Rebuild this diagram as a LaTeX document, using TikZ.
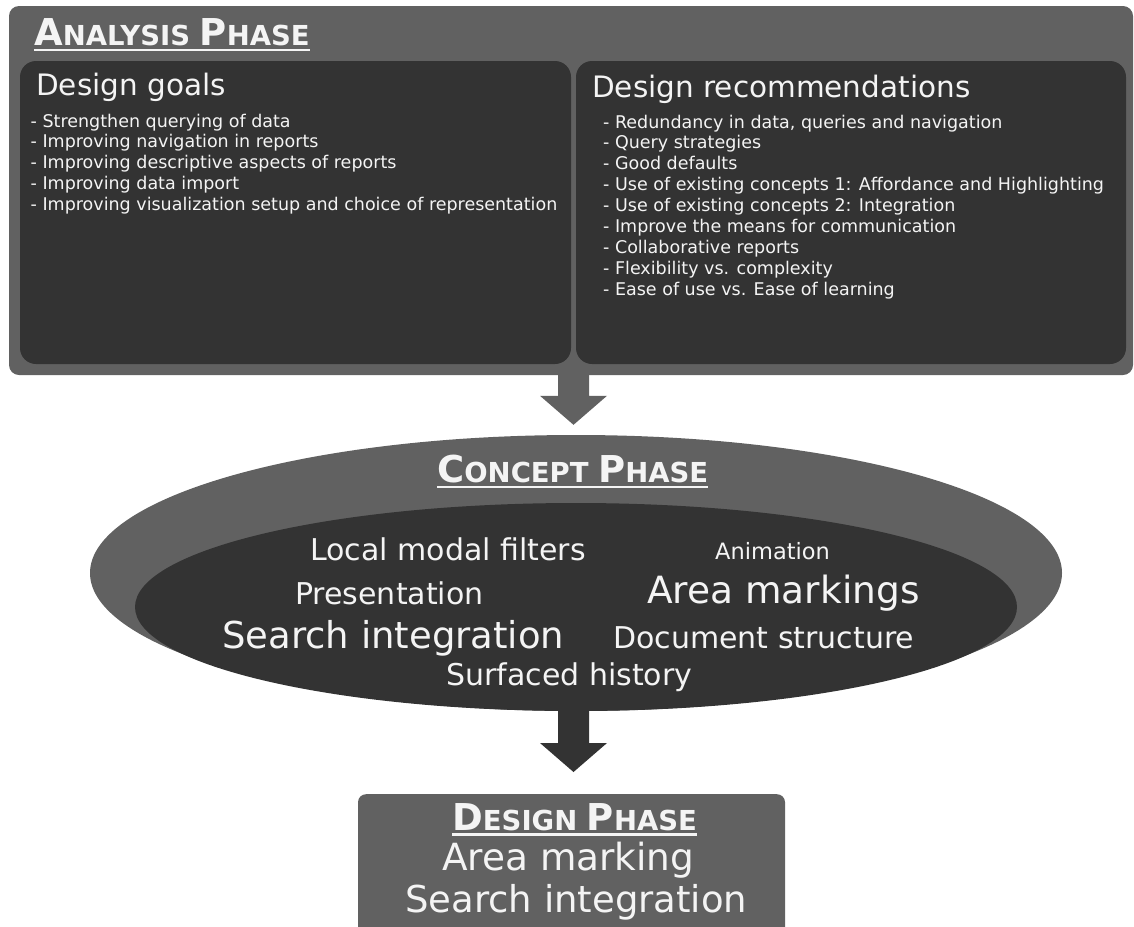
\documentclass[tikz,border=0pt]{standalone}
\usepackage{fontspec}
\setmainfont{DejaVu Sans}
\usetikzlibrary{shapes.geometric,calc}

\definecolor{panelmid}{HTML}{616161}
\definecolor{paneldark}{HTML}{333333}
\definecolor{inktext}{HTML}{F4F4F4}

% small-caps style headings built from two sizes of bold capitals
\newcommand{\capbig}[1]{{\fontsize{37}{40}\selectfont\bfseries #1}}
\newcommand{\capsmall}[1]{{\fontsize{27.5}{30}\selectfont\bfseries #1}}
\newcommand{\fs}[1]{\fontsize{#1}{#1}\selectfont}

\tikzset{
  phasebox/.style={fill=panelmid, draw=none, rounded corners=10pt, inner sep=0pt},
  listbox/.style={fill=paneldark, draw=none, rounded corners=16pt, inner sep=0pt},
  heading/.style={text=inktext, inner sep=0pt, anchor=base west},
  uline/.style={draw=inktext, line width=2.6pt},
  boxtitle/.style={text=inktext, inner sep=0pt, anchor=base west, font=\fs{29.5}},
  item/.style={text=inktext, inner sep=0pt, anchor=base west, font=\fs{17.5}},
  word/.style={text=inktext, inner sep=0pt, anchor=base west},
}

\begin{document}
\begin{tikzpicture}[x=1pt, y=-1pt]
\useasboundingbox (0,0) rectangle (1134,926);

% ---------- analysis phase ----------
\node[phasebox, minimum width=1124pt, minimum height=369pt] (analysis) at (571,190.5) {};
\node[heading] (atitle) at (34,45)
  {\capbig{A}\capsmall{NALYSIS }\capbig{P}\capsmall{HASE}};
\draw[uline] ([yshift=-5pt]atitle.base west) -- ([yshift=-5pt]atitle.base east);

\node[listbox, minimum width=551pt, minimum height=303pt] (goals) at (295.5,212.5) {};
\node[listbox, minimum width=550pt, minimum height=303pt] (recs) at (851,212.5) {};

\node[boxtitle] (goalstitle) at (36,95) {Design goals};
\node[boxtitle] (recstitle) at (592,97) {Design recommendations};

\foreach [count=\i] \t in {
  - Strengthen querying of data,
  - Improving navigation in reports,
  - Improving descriptive aspects of reports,
  - Improving data import,
  - Improving visualization setup and choice of representation}
  \node[item] (g\i) at (30.5,{127+(\i-1)*20.75}) {\t};

\foreach [count=\i] \t in {
  {- Redundancy in data, queries and navigation},
  - Query strategies,
  - Good defaults,
  - Use of existing concepts 1: Affordance and Highlighting,
  - Use of existing concepts 2: Integration,
  - Improve the means for communication,
  - Collaborative reports,
  - Flexibility vs. complexity,
  - Ease of use vs. Ease of learning}
  \node[item] (r\i) at (603,{128+(\i-1)*20.9}) {\t};

% ---------- concept phase ----------
\node[ellipse, fill=panelmid, inner sep=0pt, minimum width=972pt, minimum height=276pt] (concept) at (576,573) {};
\node[ellipse, fill=paneldark, inner sep=0pt, minimum width=882pt, minimum height=208pt] (core) at (576,607) {};
\node[heading] (ctitle) at (437,482)
  {\capbig{C}\capsmall{ONCEPT }\capbig{P}\capsmall{HASE}};
\draw[uline] ([yshift=-5pt]ctitle.base west) -- ([yshift=-5pt]ctitle.base east);

\node[word, font=\fs{30}]   (w1) at (310,560) {Local modal filters};
\node[word, font=\fs{22.5}] (w2) at (715,559) {Animation};
\node[word, font=\fs{30}]   (w3) at (295,604) {Presentation};
\node[word, font=\fs{37.5}] (w4) at (647,603) {Area markings};
\node[word, font=\fs{37}]   (w5) at (222,648) {Search integration};
\node[word, font=\fs{30}]   (w6) at (613,648) {Document structure};
\node[word, font=\fs{30}]   (w7) at (446,685) {Surfaced history};

% ---------- design phase ----------
\node[phasebox, rounded corners=8pt, minimum width=427pt, minimum height=150pt, anchor=north] (design) at (571.5,794) {};
\node[heading] (dtitle) at (452,830)
  {\capbig{D}\capsmall{ESIGN }\capbig{P}\capsmall{HASE}};
\draw[uline] ([yshift=-4.5pt]dtitle.base west) -- ([yshift=-4.5pt]dtitle.base east);
\node[word, font=\fs{37.4}] (d1) at (442,870) {Area marking};
\node[word, font=\fs{37}]   (d2) at (405,912) {Search integration};

% ---------- block arrows between phases ----------
\coordinate (axis) at (573.5,0);
\coordinate (a1start) at (analysis.south -| axis);
\coordinate (a1tip) at ([yshift=10pt]concept.north -| axis);
\coordinate (a2start) at ([yshift=1pt]core.south -| axis);
\coordinate (a2tip) at ([yshift=22pt]design.north -| axis);

\fill[panelmid] (a1start) ++(-15.5,-1) -- ++(31,0) -- ($(a1tip)+(15.5,-29)$)
  -- ($(a1tip)+(33.5,-29)$) -- (a1tip) -- ($(a1tip)+(-33.5,-29)$)
  -- ($(a1tip)+(-15.5,-29)$) -- cycle;
\fill[paneldark] (a2start) ++(-15.5,-1) -- ++(31,0) -- ($(a2tip)+(15.5,-29)$)
  -- ($(a2tip)+(33.5,-29)$) -- (a2tip) -- ($(a2tip)+(-33.5,-29)$)
  -- ($(a2tip)+(-15.5,-29)$) -- cycle;
\end{tikzpicture}
\end{document}
